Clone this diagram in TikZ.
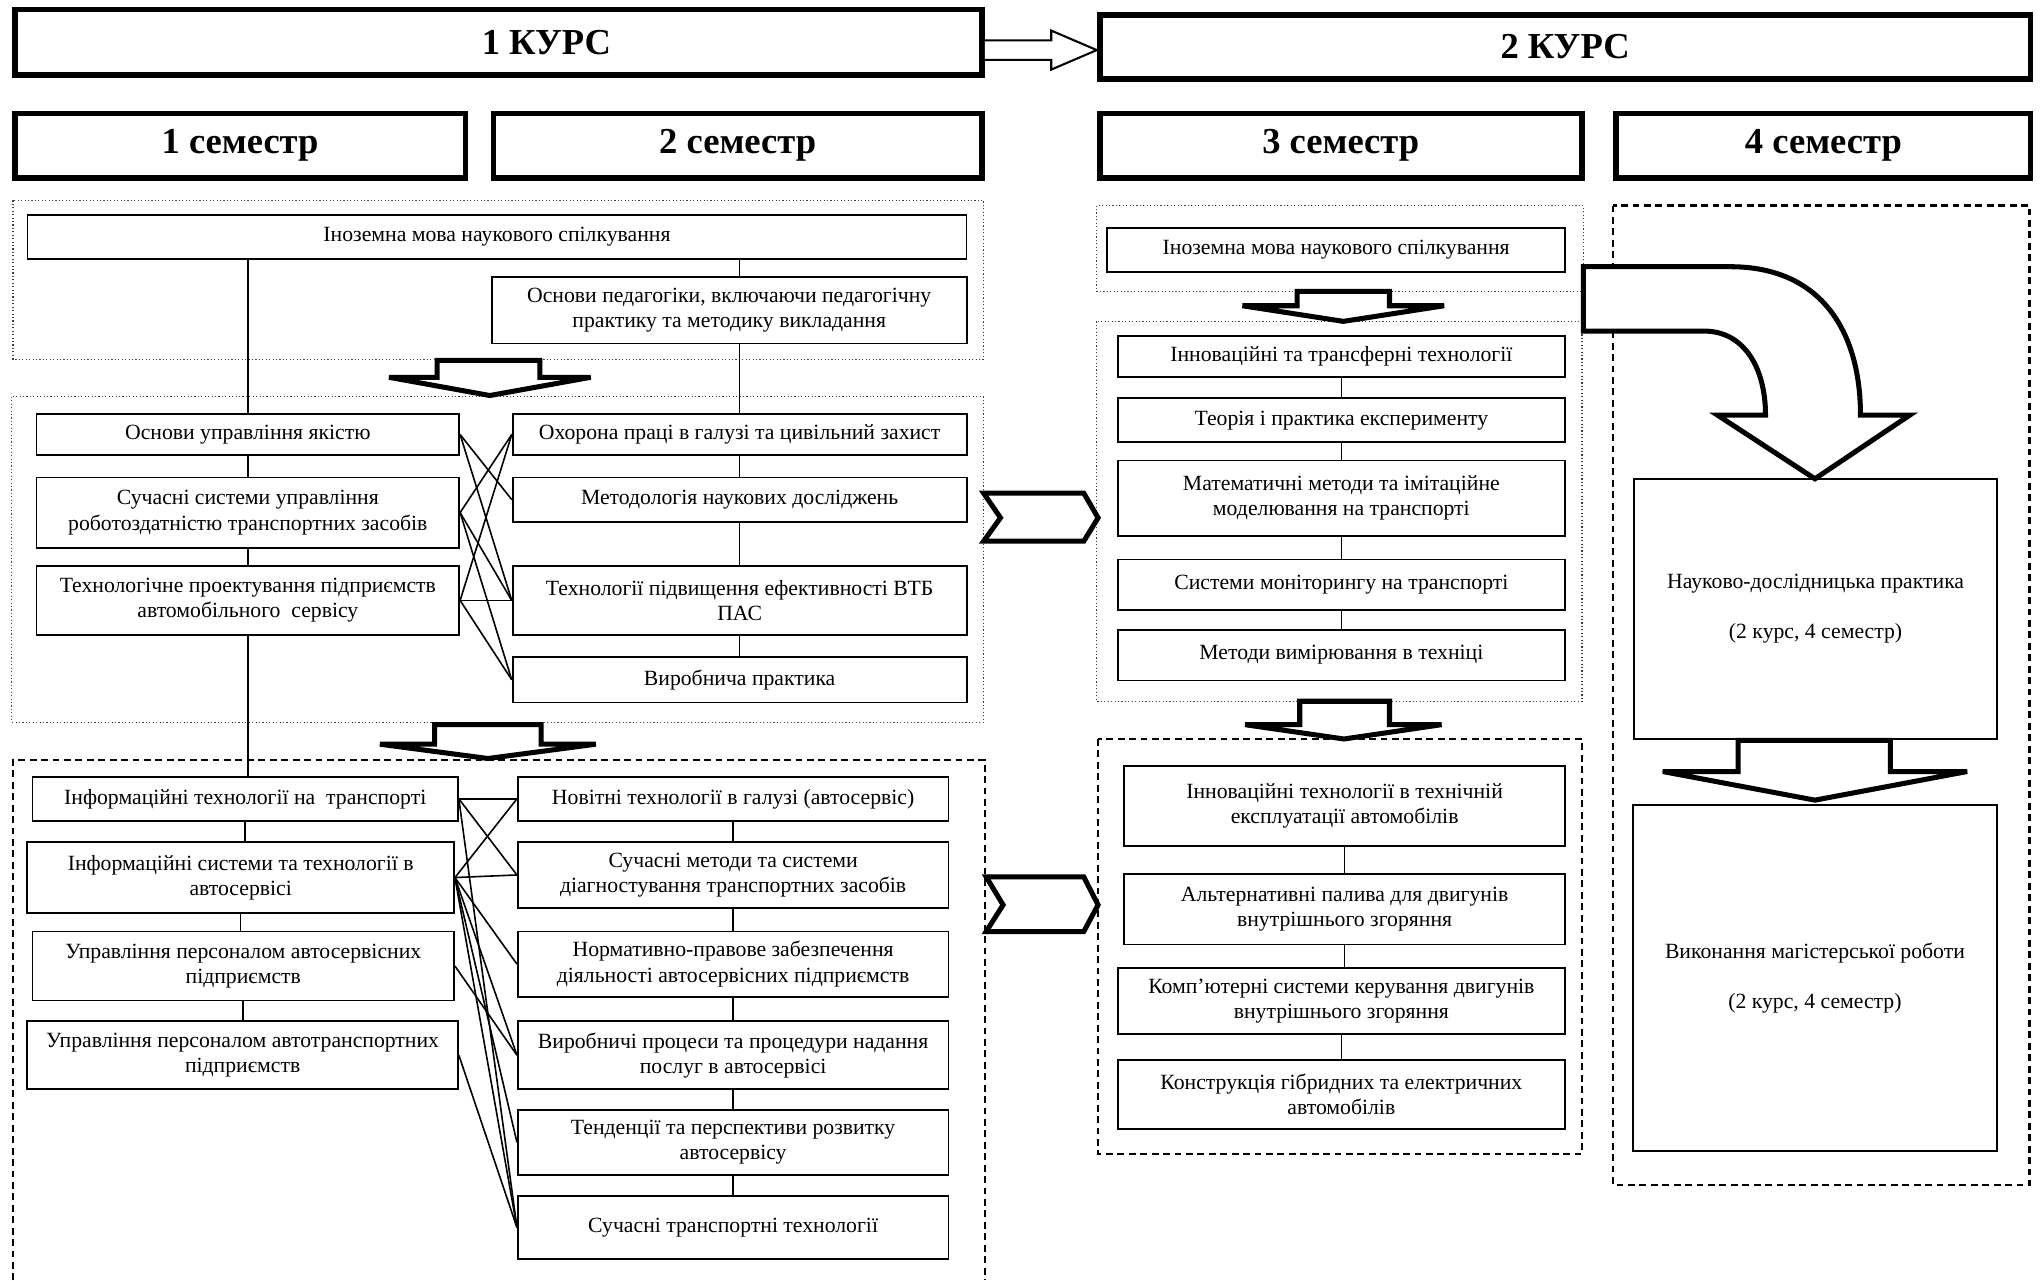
\documentclass[tikz,border=0pt]{standalone}
\usepackage{fontspec}
\setmainfont{Liberation Serif}

\begin{document}
\begin{tikzpicture}[
            x=0.02cm, y=-0.02cm,
            course/.style={rectangle, draw, line width=2.5pt, inner sep=0pt, font=\fontsize{16}{18}\selectfont\bfseries},
            discipline/.style={rectangle, draw, line width=0.8pt, inner sep=1pt, align=center, font=\fontsize{9.5}{11}\selectfont},
            dotframe/.style={draw=black!75, line width=0.5pt, densely dotted},
            dashframe/.style={draw, line width=1pt, dash pattern=on 3pt off 2pt},
            link/.style={line width=0.7pt},
            bigarrow/.style={draw, line width=2.2pt, fill=white, line join=miter}
        ]
            \fill[white] (0,0) rectangle (1568,984);
            \useasboundingbox (0,0) rectangle (1568,984);

            % frames
            \draw[dotframe] (10,154) rectangle (756,276);
            \draw[dotframe] (9,305) rectangle (756,555);
            \draw[dashframe] (10,984) -- (10,584) -- (757,584) -- (757,984);
            \draw[dotframe] (843,158) rectangle (1217,224);
            \draw[dotframe] (843,247) rectangle (1216,539);
            \draw[dashframe] (844,568) rectangle (1216,887);
            \draw[dashframe] (1240,158) rectangle (1560,911);

            % courses and semesters
            \node[course, minimum width=14.87cm, minimum height=1.01cm] (k1) at (383,32.5) {\hspace*{1.48cm}1 КУРС};
            \node[course, minimum width=14.31cm, minimum height=0.99cm] (k2) at (1203,36) {2 КУРС};
            \node[course, minimum width=6.93cm, minimum height=0.99cm] (s1) at (184.5,112) {1 семестр};
            \node[course, minimum width=7.51cm, minimum height=0.99cm] (s2) at (567,112) {2 семестр};
            \node[course, minimum width=7.41cm, minimum height=0.99cm] (s3) at (1030.5,112) {3 семестр};
            \node[course, minimum width=6.37cm, minimum height=0.99cm] (s4) at (1401.5,112) {4 семестр};
            \draw[line width=0.9pt, fill=white] (757,31) -- (808,31) -- (808,23.5) -- (843,38.5) -- (808,53.5) -- (808,46) -- (757,46);

            % 1 course
            \node[discipline, minimum width=14.44cm, minimum height=0.68cm] (a1) at (382,182) {Іноземна мова наукового спілкування};
            \node[discipline, minimum width=7.3cm, minimum height=1.02cm] (a2) at (560.5,238.5) {Основи педагогіки, включаючи педагогічну\\практику та методику викладання};

            \node[discipline, minimum width=6.5cm, minimum height=0.64cm] (b1) at (190.5,334) {Основи управління якістю};
            \node[discipline, minimum width=6.5cm, minimum height=1.08cm] (b2) at (190.5,394) {Сучасні системи управління\\роботоздатністю транспортних засобів};
            \node[discipline, minimum width=6.5cm, minimum height=1.06cm] (b3) at (190.5,461.5) {Технологічне проектування підприємств\\автомобільного\ \ сервісу};
            \node[discipline, minimum width=6.98cm, minimum height=0.64cm] (c1) at (568.5,334) {Охорона праці в галузі та цивільний захист};
            \node[discipline, minimum width=6.98cm, minimum height=0.68cm] (c2) at (568.5,384) {Методологія наукових досліджень};
            \node[discipline, minimum width=6.98cm, minimum height=1.06cm] (c3) at (568.5,461.5) {Технології підвищення ефективності ВТБ\\ПАС};
            \node[discipline, minimum width=6.98cm, minimum height=0.7cm] (c4) at (568.5,522.5) {Виробнича практика};

            \node[discipline, minimum width=6.54cm, minimum height=0.68cm] (d1) at (188.5,614) {Інформаційні технології на\ \ транспорті};
            \node[discipline, minimum width=6.56cm, minimum height=1.1cm] (d2) at (185,674.5) {Інформаційні системи та технології в\\автосервісі};
            \node[discipline, minimum width=6.48cm, minimum height=1.06cm] (d3) at (187,742.5) {Управління персоналом автосервісних\\підприємств};
            \node[discipline, minimum width=6.62cm, minimum height=1.04cm] (d4) at (186.5,811) {Управління персоналом автотранспортних\\підприємств};
            \node[discipline, minimum width=6.62cm, minimum height=0.68cm] (e1) at (563.5,614) {Новітні технології в галузі (автосервіс)};
            \node[discipline, minimum width=6.62cm, minimum height=1.02cm] (e2) at (563.5,672.5) {Сучасні методи та системи\\діагностування транспортних засобів};
            \node[discipline, minimum width=6.62cm, minimum height=1.0cm] (e3) at (563.5,741) {Нормативно-правове забезпечення\\діяльності автосервісних підприємств};
            \node[discipline, minimum width=6.62cm, minimum height=1.04cm] (e4) at (563.5,811) {Виробничі процеси та процедури надання\\послуг в автосервісі};
            \node[discipline, minimum width=6.62cm, minimum height=1.0cm] (e5) at (563.5,878) {Тенденції та перспективи розвитку\\автосервісу};
            \node[discipline, minimum width=6.62cm, minimum height=0.98cm] (e6) at (563.5,943.5) {Сучасні транспортні технології};

            \draw[link] (b1.north |- a1.south) -- (b1.north);
            \draw[link] (c1.north |- a1.south) -- (c1.north |- a2.north);
            \draw[link] (c1.north |- a2.south) -- (c1.north);
            \foreach \u/\v in {b1/b2, b2/b3, c1/c2, c2/c3, c3/c4, b3/d1, d1/d2, d2/d3, d3/d4, e1/e2, e2/e3, e3/e4, e4/e5, e5/e6}
                \draw[link] (\u.south) -- (\u.south |- \v.north);
            \foreach \u/\v in {b1/c2, b1/c3, b2/c1, b2/c3, b2/c4, b3/c1, b3/c3, b3/c4}
                \draw[link] (\u.east) -- (\v.west);
            \foreach \u/\v in {d1/e1, d1/e2, d1/e6, d2/e1, d2/e2, d2/e3, d2/e4, d2/e5, d2/e6, d3/e4, d4/e6}
                \draw[link] (\u.east) -- (\v.west);

            \draw[bigarrow] (336,277) -- (415,277) -- (415,290) -- (454,290) -- (376.5,304) -- (299,290) -- (336,290) -- cycle;
            \draw[bigarrow] (334,557) -- (416,557) -- (416,572) -- (458,572) -- (375,583) -- (292,572) -- (334,572) -- cycle;

            % 2 course
            \node[discipline, minimum width=7.04cm, minimum height=0.68cm] (f1) at (1027,192) {Іноземна мова наукового спілкування};
            \node[discipline, minimum width=6.88cm, minimum height=0.64cm] (g1) at (1031,274) {Інноваційні та трансферні технології};
            \node[discipline, minimum width=6.88cm, minimum height=0.68cm] (g2) at (1031,323) {Теорія і практика експерименту};
            \node[discipline, minimum width=6.88cm, minimum height=1.16cm] (g3) at (1031,383) {Математичні методи та імітаційне\\моделювання на транспорті};
            \node[discipline, minimum width=6.88cm, minimum height=0.78cm] (g4) at (1031,449.5) {Системи моніторингу на транспорті};
            \node[discipline, minimum width=6.88cm, minimum height=0.78cm] (g5) at (1031,503.5) {Методи вимірювання в техніці};
            \node[discipline, minimum width=6.78cm, minimum height=1.22cm] (h1) at (1033.5,619.5) {Інноваційні технології в технічній\\експлуатації автомобілів};
            \node[discipline, minimum width=6.78cm, minimum height=1.08cm] (h2) at (1033.5,699) {Альтернативні палива для двигунів\\внутрішнього згоряння};
            \node[discipline, minimum width=6.88cm, minimum height=1.02cm] (h3) at (1031,769.5) {Комп’ютерні системи керування двигунів\\внутрішнього згоряння};
            \node[discipline, minimum width=6.88cm, minimum height=1.06cm] (h4) at (1031,841) {Конструкція гібридних та електричних\\автомобілів};
            \node[discipline, minimum width=5.58cm, minimum height=4.0cm] (i1) at (1395.5,468) {Науково-дослідницька практика\\[\baselineskip](2 курс, 4 семестр)};
            \node[discipline, minimum width=5.6cm, minimum height=5.32cm] (i2) at (1395,751.5) {Виконання магістерської роботи\\[\baselineskip](2 курс, 4 семестр)};

            \foreach \u/\v in {g1/g2, g2/g3, g3/g4, g4/g5, h1/h2, h2/h3, h3/h4}
                \draw[link] (\u.south) -- (\u.south |- \v.north);

            \draw[bigarrow] (997,224) -- (1068,224) -- (1068,235) -- (1110,235) -- (1032.5,247) -- (955,235) -- (997,235) -- cycle;
            \draw[bigarrow] (999,539) -- (1068,539) -- (1068,557) -- (1108,557) -- (1033,568) -- (957,557) -- (999,557) -- cycle;
            \draw[bigarrow] (1336,569) -- (1453,569) -- (1453,593) -- (1512,593) -- (1395,615) -- (1278,593) -- (1336,593) -- cycle;
            \draw[bigarrow] (1217,205) -- (1330,205) .. controls (1400,205) and (1430,255) .. (1430,319) -- (1468,319) -- (1395,368) -- (1320,319) -- (1357,319) .. controls (1357,282) and (1340,254.5) .. (1310,254.5) -- (1217,254.5) -- cycle;

            % chevrons between semesters
            \draw[bigarrow] (756,379) -- (833,379) -- (844,398) -- (833,416) -- (756,416) -- (769,398) -- cycle;
            \draw[bigarrow] (758,674) -- (833,674) -- (844,695.5) -- (833,716) -- (758,716) -- (771,695.5) -- cycle;
        \end{tikzpicture}
\end{document}
